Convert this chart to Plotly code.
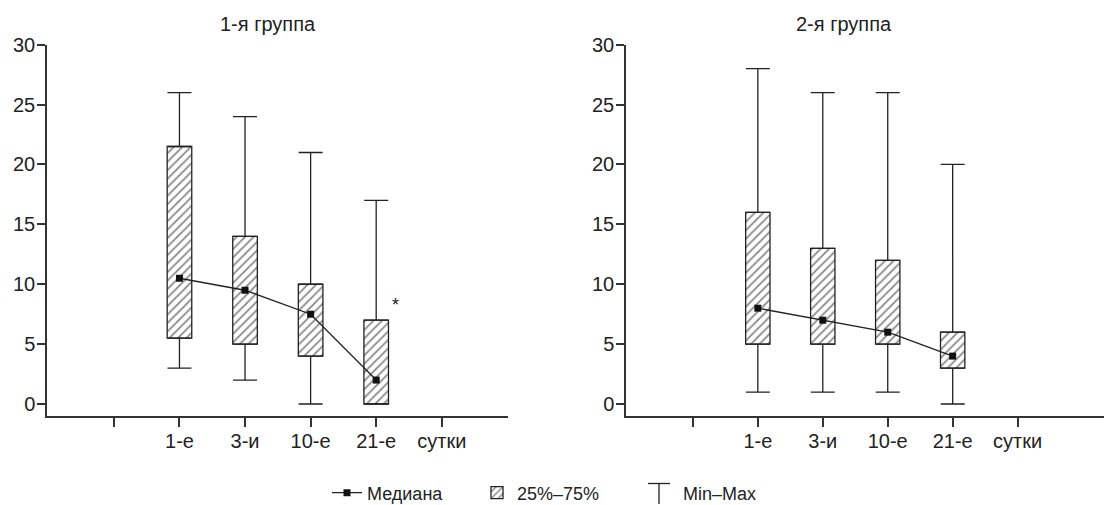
import plotly.graph_objects as go

# ---- data ----
positions = [1, 2, 3, 4]
tick_vals = [0, 1, 2, 3, 4, 5]
tick_labels = ["", "1-е", "3-и", "10-е", "21-е", "сутки"]
panel_titles = ["1-я группа", "2-я группа"]

g1_min = [3, 2, 0, 0]
g1_q1 = [5.5, 5, 4, 0]
g1_med = [10.5, 9.5, 7.5, 2]
g1_q3 = [21.5, 14, 10, 7]
g1_max = [26, 24, 21, 17]

g2_min = [1, 1, 1, 0]
g2_q1 = [5, 5, 5, 3]
g2_med = [8, 7, 6, 4]
g2_q3 = [16, 13, 12, 6]
g2_max = [28, 26, 26, 20]

star_x = 4.3
star_y = 8.5

# ---- style ----
FONT = "Liberation Sans, Arial, Helvetica, sans-serif"
INK = "#222222"
AX = "#333333"
W = 1104
H = 505

fig = go.Figure()

groups = [
    (g1_min, g1_q1, g1_med, g1_q3, g1_max, "x", "y"),
    (g2_min, g2_q1, g2_med, g2_q3, g2_max, "x2", "y2"),
]

for i, (mn, q1, md, q3, mx, xa, ya) in enumerate(groups):
    first = i == 0
    # IQR boxes (hatched)
    fig.add_trace(go.Bar(
        x=positions, y=[b - a for a, b in zip(q1, q3)], base=q1,
        width=0.375, xaxis=xa, yaxis=ya,
        name="25%–75%", showlegend=first, legendrank=2, legendwidth=121,
        marker=dict(color="white",
                    line=dict(color=INK, width=1.3),
                    pattern=dict(shape="/", fgcolor="#111111", bgcolor="white",
                                 size=6, solidity=0.3, fillmode="overlay")),
        hoverinfo="skip",
    ))
    # upper whiskers
    fig.add_trace(go.Scatter(
        x=positions, y=q3, mode="markers", xaxis=xa, yaxis=ya,
        marker=dict(size=1, color="rgba(0,0,0,0)"),
        error_y=dict(type="data", symmetric=False,
                     array=[b - a for a, b in zip(q3, mx)],
                     arrayminus=[0] * len(q3),
                     width=12, thickness=1.3, color=INK),
        showlegend=False, hoverinfo="skip",
    ))
    # lower whiskers
    fig.add_trace(go.Scatter(
        x=positions, y=q1, mode="markers", xaxis=xa, yaxis=ya,
        marker=dict(size=1, color="rgba(0,0,0,0)"),
        error_y=dict(type="data", symmetric=False,
                     array=[0] * len(q1),
                     arrayminus=[a - b for a, b in zip(q1, mn)],
                     width=12, thickness=1.3, color=INK),
        showlegend=False, hoverinfo="skip",
    ))
    # medians
    fig.add_trace(go.Scatter(
        x=positions, y=md, mode="lines+markers", xaxis=xa, yaxis=ya,
        name="Медиана", showlegend=first, legendrank=1, legendwidth=105,
        line=dict(color=INK, width=1.3),
        marker=dict(symbol="square", size=7, color="#111111"),
    ))

# legend placeholder for Min–Max
fig.add_trace(go.Scatter(
    x=[None], y=[None], mode="markers", name="Min–Max", legendrank=3, legendwidth=95,
    marker=dict(size=1, color="rgba(0,0,0,0)"),
))

axis_common = dict(showline=True, linecolor=AX, linewidth=1.5,
                   ticks="outside", tickcolor=AX, tickwidth=1.5,
                   showgrid=False, zeroline=False, automargin=False,
                   tickfont=dict(family=FONT, size=20, color=INK))

ydom = [89 / H, 460.3 / H]
fig.update_layout(
    width=W, height=H,
    margin=dict(l=0, r=0, t=0, b=0, autoexpand=False),
    paper_bgcolor="white", plot_bgcolor="white",
    barmode="overlay",
    xaxis=dict(domain=[47 / W, 508 / W], range=[-1.02, 6.01],
               tickvals=tick_vals, ticktext=tick_labels, ticklen=9,
               ticklabelstandoff=-3, anchor="y", **axis_common),
    yaxis=dict(domain=ydom, range=[-1, 30], tickvals=[0, 5, 10, 15, 20, 25, 30],
               ticklen=8, ticklabelstandoff=-2, anchor="x", **axis_common),
    xaxis2=dict(domain=[626 / W, 1.0], range=[-1.03, 6.33],
                tickvals=tick_vals, ticktext=tick_labels, ticklen=9,
                ticklabelstandoff=-3, anchor="y2", **axis_common),
    yaxis2=dict(domain=ydom, range=[-1, 30], tickvals=[0, 5, 10, 15, 20, 25, 30],
                ticklen=8, ticklabelstandoff=-2, anchor="x2", **axis_common),
    legend=dict(orientation="h", x=327 / W, xanchor="left", y=12 / H, yanchor="middle",
                font=dict(family=FONT, size=18, color=INK),
                bgcolor="rgba(0,0,0,0)", traceorder="normal", borderwidth=0),
    showlegend=True,
)

# panel titles
for k, cx in enumerate([268, 844]):
    fig.add_annotation(text=panel_titles[k], x=cx / W, y=1 - 24 / H, xref="paper", yref="paper",
                       xanchor="center", yanchor="middle", showarrow=False,
                       font=dict(family=FONT, size=20, color=INK))
# significance mark
fig.add_annotation(text="*", x=star_x, y=star_y, xref="x", yref="y", yshift=-3,
                   showarrow=False, font=dict(family=FONT, size=18, color=INK))
# T-glyph for the Min–Max legend entry
fig.add_shape(type="line", xref="paper", yref="paper",
              x0=648 / W, x1=670 / W, y0=1 - 483.5 / H, y1=1 - 483.5 / H,
              line=dict(color=INK, width=1.3))
fig.add_shape(type="line", xref="paper", yref="paper",
              x0=659 / W, x1=659 / W, y0=1 - 483.5 / H, y1=1 - 504 / H,
              line=dict(color=INK, width=1.3))

fig.write_html("out.html", config={"displayModeBar": False},
               post_script="document.body.style.margin='0';")
